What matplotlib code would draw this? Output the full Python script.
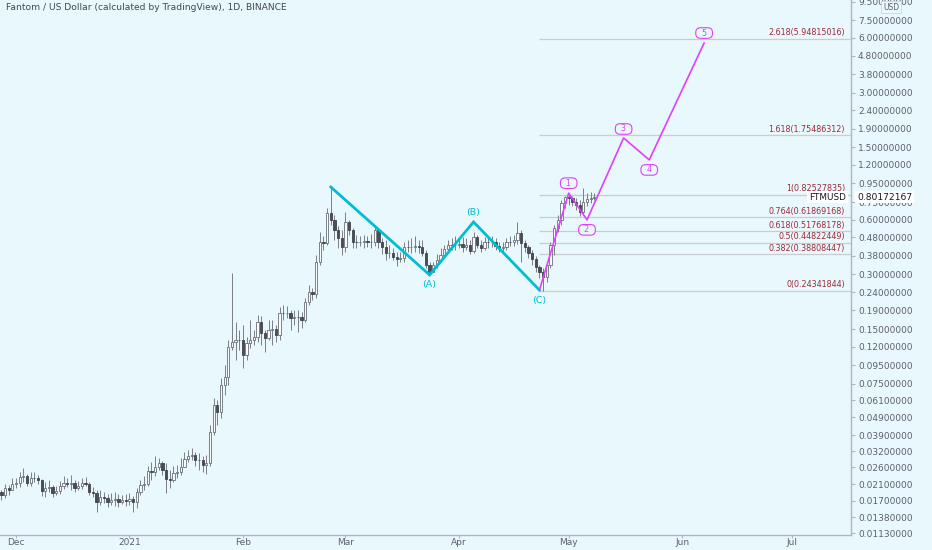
import numpy as np
import pandas as pd
import matplotlib
matplotlib.use('Agg')
import matplotlib.pyplot as plt
import matplotlib.dates as mdates
from matplotlib.ticker import NullLocator, FixedLocator
from matplotlib.transforms import blended_transform_factory

# FTM/USD daily candles, first candle 2020-11-27
start_date = '2020-11-27'
first_open = 0.0190
closes = [
    0.0183, 0.0200, 0.0195, 0.0211, 0.0213,
    0.0230, 0.0233, 0.0213, 0.0227, 0.0226, 0.0222, 0.0193, 0.0200, 0.0203, 0.0188,
    0.0193, 0.0205, 0.0213, 0.0212, 0.0214, 0.0200, 0.0205, 0.0213, 0.0212, 0.0190,
    0.0188, 0.0168, 0.0179, 0.0176, 0.0168, 0.0172, 0.0174, 0.0168, 0.0172, 0.0170,
    0.0174, 0.0168, 0.0190, 0.0208, 0.0211, 0.0248, 0.0245, 0.0261, 0.0275, 0.0252,
    0.0224, 0.0223, 0.0242, 0.0245, 0.0261, 0.0289, 0.0300, 0.0304, 0.0286, 0.0285,
    0.0268, 0.0275, 0.0408, 0.0573, 0.0525, 0.0739, 0.0818, 0.120, 0.127, 0.131,
    0.130, 0.108, 0.126, 0.131, 0.136, 0.164, 0.143, 0.134, 0.148, 0.151,
    0.139, 0.184, 0.183, 0.185, 0.172, 0.175, 0.174, 0.168, 0.211, 0.240,
    0.234, 0.351, 0.452, 0.446, 0.654, 0.598, 0.527, 0.477, 0.424, 0.583,
    0.527, 0.452, 0.450, 0.454, 0.458, 0.452, 0.455, 0.527, 0.452, 0.424,
    0.393, 0.395, 0.374, 0.364, 0.369, 0.424, 0.422, 0.426, 0.430, 0.424,
    0.393, 0.338, 0.309, 0.338, 0.360, 0.384, 0.414, 0.435, 0.433, 0.437,
    0.441, 0.424, 0.435, 0.404, 0.483, 0.435, 0.419, 0.452, 0.450, 0.454,
    0.430, 0.419, 0.422, 0.452, 0.450, 0.464, 0.508, 0.446, 0.424, 0.393,
    0.364, 0.330, 0.309, 0.291, 0.338, 0.435, 0.541, 0.598, 0.741, 0.800,
    0.789, 0.751, 0.723, 0.662, 0.751, 0.780, 0.785, 0.80172167,
]
highs = [
    0.0195, 0.0211, 0.0208, 0.0227, 0.0227,
    0.0245, 0.0258, 0.0239, 0.0245, 0.0245, 0.0236, 0.0224, 0.0216, 0.0222, 0.0208,
    0.0205, 0.0219, 0.0233, 0.0227, 0.0236, 0.0222, 0.0219, 0.0227, 0.0230, 0.0216,
    0.0203, 0.0195, 0.0195, 0.0190, 0.0186, 0.0188, 0.0190, 0.0186, 0.0183, 0.0186,
    0.0188, 0.0181, 0.0200, 0.0222, 0.0233, 0.0265, 0.0278, 0.0300, 0.0293, 0.0282,
    0.0275, 0.0252, 0.0265, 0.0268, 0.0293, 0.0316, 0.0324, 0.0332, 0.0316, 0.0312,
    0.0300, 0.0304, 0.0445, 0.0626, 0.0611, 0.0807, 0.0951, 0.131, 0.305, 0.164,
    0.148, 0.158, 0.136, 0.168, 0.148, 0.179, 0.177, 0.148, 0.168, 0.168,
    0.158, 0.199, 0.204, 0.201, 0.191, 0.191, 0.191, 0.186, 0.222, 0.262,
    0.253, 0.384, 0.514, 0.489, 0.696, 0.908, 0.637, 0.554, 0.527, 0.662,
    0.598, 0.541, 0.495, 0.489, 0.495, 0.489, 0.501, 0.561, 0.541, 0.477,
    0.464, 0.435, 0.419, 0.398, 0.398, 0.452, 0.464, 0.477, 0.489, 0.464,
    0.464, 0.409, 0.351, 0.351, 0.388, 0.419, 0.435, 0.464, 0.477, 0.489,
    0.477, 0.483, 0.477, 0.464, 0.514, 0.495, 0.464, 0.483, 0.489, 0.489,
    0.477, 0.452, 0.452, 0.477, 0.489, 0.495, 0.583, 0.527, 0.464, 0.435,
    0.409, 0.379, 0.338, 0.325, 0.351, 0.452, 0.561, 0.637, 0.770, 0.810,
    0.825, 0.810, 0.789, 0.770, 0.896, 0.841, 0.852, 0.841,
]
lows = [
    0.0172, 0.0176, 0.0183, 0.0195, 0.0200,
    0.0203, 0.0216, 0.0205, 0.0205, 0.0216, 0.0211, 0.0181, 0.0179, 0.0190, 0.0179,
    0.0183, 0.0186, 0.0198, 0.0203, 0.0195, 0.0190, 0.0195, 0.0198, 0.0205, 0.0183,
    0.0179, 0.0148, 0.0161, 0.0166, 0.0157, 0.0161, 0.0159, 0.0157, 0.0163, 0.0159,
    0.0161, 0.0148, 0.0155, 0.0183, 0.0195, 0.0205, 0.0222, 0.0233, 0.0252, 0.0236,
    0.0188, 0.0200, 0.0216, 0.0227, 0.0236, 0.0261, 0.0278, 0.0286, 0.0265, 0.0252,
    0.0245, 0.0239, 0.0265, 0.0392, 0.0445, 0.0486, 0.0650, 0.0739, 0.115, 0.101,
    0.115, 0.092, 0.101, 0.118, 0.123, 0.127, 0.123, 0.112, 0.131, 0.123,
    0.127, 0.131, 0.168, 0.172, 0.148, 0.158, 0.145, 0.153, 0.164, 0.204,
    0.217, 0.222, 0.338, 0.409, 0.435, 0.561, 0.464, 0.419, 0.384, 0.398,
    0.495, 0.419, 0.419, 0.430, 0.419, 0.424, 0.419, 0.430, 0.419, 0.388,
    0.360, 0.369, 0.360, 0.334, 0.351, 0.351, 0.398, 0.393, 0.398, 0.393,
    0.379, 0.325, 0.298, 0.309, 0.325, 0.351, 0.374, 0.398, 0.409, 0.409,
    0.419, 0.398, 0.409, 0.388, 0.393, 0.419, 0.398, 0.409, 0.419, 0.424,
    0.409, 0.398, 0.398, 0.409, 0.430, 0.430, 0.441, 0.351, 0.398, 0.369,
    0.338, 0.309, 0.287, 0.2434, 0.272, 0.325, 0.384, 0.514, 0.561, 0.696,
    0.723, 0.714, 0.679, 0.629, 0.645, 0.714, 0.741, 0.770,
]

# corrective ABC wave (cyan)
abc_dates = ['2021-02-25', '2021-03-24', '2021-04-05', '2021-04-23']
abc_prices = [0.908, 0.298, 0.583, 0.246]
abc_labels = ['', '(A)', '(B)', '(C)']

# projected impulse wave (magenta)
wave_dates = ['2021-04-23', '2021-05-01', '2021-05-06', '2021-05-16', '2021-05-23', '2021-06-07']
wave_prices = [0.246, 0.84, 0.599, 1.69, 1.28, 5.63]
wave_labels = ['', '1', '2', '3', '4', '5']

# fibonacci extension levels
fib_start = '2021-04-23'
fib_ratios = ['0', '0.382', '0.5', '0.618', '0.764', '1', '1.618', '2.618']
fib_prices = [0.24341844, 0.38808447, 0.44822449, 0.51768178, 0.61869168,
              0.82527835, 1.75486312, 5.94815016]

ytick_values = [0.0113, 0.0138, 0.017, 0.021, 0.026, 0.032, 0.039, 0.049, 0.061,
                0.075, 0.095, 0.12, 0.15, 0.19, 0.24, 0.30, 0.38, 0.48, 0.60, 0.75,
                0.95, 1.2, 1.5, 1.9, 2.4, 3.0, 3.8, 4.8, 6.0, 7.5, 9.5]
month_ticks = ['2020-12-01', '2021-01-01', '2021-02-01', '2021-03-01',
               '2021-04-01', '2021-05-01', '2021-06-01', '2021-07-01']
month_labels = ['Dec', '2021', 'Feb', 'Mar', 'Apr', 'May', 'Jun', 'Jul']
last_price = 0.80172167

bg = '#e9f8fc'
cyan = '#00bcd4'
magenta = '#e040fb'
fib_text = '#9c2a3a'
axis_text = '#5d606b'

W, H = 932, 550
fig = plt.figure(figsize=(W / 100, H / 100), dpi=100, facecolor=bg)
ax = fig.add_axes([0, 15 / H, 851 / W, 535 / H], facecolor=bg)
ax.set_yscale('log')

# candles
x = mdates.date2num(pd.date_range(start_date, periods=len(closes), freq='D'))
c = np.array(closes)
o = np.array([first_open] + closes[:-1])
up = c >= o
ax.vlines(x, lows, highs, color='#7b7e86', lw=0.7, zorder=2)
ax.bar(x, np.abs(c - o), width=0.62, bottom=np.minimum(o, c),
       color=np.where(up, '#fbfdfe', '#4a4d55'),
       edgecolor=np.where(up, '#6a6d75', '#404349'), linewidth=0.6, zorder=3)

# fib levels
trans = blended_transform_factory(ax.transAxes, ax.transData)
x_fib = mdates.date2num(pd.Timestamp(fib_start))
x_end = mdates.date2num(pd.Timestamp('2021-08-01'))
ax.hlines(fib_prices, x_fib, x_end, color='#c9cdd1', lw=0.9, zorder=1)
for r, p in zip(fib_ratios, fib_prices):
    ax.annotate(f'{r}({p:.8f})', (0.993, p), xycoords=trans, xytext=(0, 1.5),
                textcoords='offset pixels', ha='right', va='bottom',
                fontsize=5.8, color=fib_text, zorder=4)

# waves
xa = mdates.date2num(pd.to_datetime(abc_dates))
ax.plot(xa, abc_prices, color=cyan, lw=2.0, zorder=5, solid_joinstyle='miter')
abc_off = [0, -10, 9, -10]
for xi, p, lab, dy in zip(xa, abc_prices, abc_labels, abc_off):
    if lab:
        ax.annotate(lab, (xi, p), xytext=(0, dy), textcoords='offset pixels',
                    ha='center', va='center', fontsize=6.8, color=cyan, zorder=6)

xw = mdates.date2num(pd.to_datetime(wave_dates))
ax.plot(xw, wave_prices, color=magenta, lw=1.2, zorder=5)
wave_off = [0, 10, -10, 9, -10, 10]
for xi, p, lab, dy in zip(xw, wave_prices, wave_labels, wave_off):
    if lab:
        ax.annotate(f'  {lab}  ', (xi, p), xytext=(0, dy), textcoords='offset pixels',
                    ha='center', va='center', fontsize=5.8, color=magenta, zorder=6,
                    bbox=dict(boxstyle='round,pad=0.1,rounding_size=0.6',
                              fc=bg, ec=magenta, lw=0.8))

# axes
ax.set_xlim(pd.Timestamp('2020-11-26 15:00'), pd.Timestamp('2021-07-17 03:00'))
ax.set_ylim(0.01104, 9.71)
ax.yaxis.tick_right()
ax.yaxis.set_major_locator(FixedLocator(ytick_values))
ax.set_yticklabels([f'{v:.8f}' for v in ytick_values])
ax.yaxis.set_minor_locator(NullLocator())
ax.set_xticks(mdates.date2num(pd.to_datetime(month_ticks)))
ax.set_xticklabels(month_labels)
ax.xaxis.set_minor_locator(NullLocator())
ax.tick_params(axis='y', length=3, width=0.8, color='#b2b5be',
               labelcolor=axis_text, labelsize=6.5, pad=2)
ax.tick_params(axis='x', length=2, width=0.8, color='#b2b5be',
               labelcolor=axis_text, labelsize=6.5, pad=0.5)
for side in ['top', 'left']:
    ax.spines[side].set_visible(False)
for side in ['right', 'bottom']:
    ax.spines[side].set_color('#b2b5be')
    ax.spines[side].set_linewidth(1)

fig.text(6 / W, 1 - 7 / H, 'Fantom / US Dollar (calculated by TradingView), 1D, BINANCE',
         fontsize=6.6, color='#434651', va='center', ha='left')
fig.text(891 / W, 1 - 7 / H, 'USD', fontsize=5.5, color=axis_text, ha='center', va='center',
         bbox=dict(boxstyle='square,pad=0.25', fc=bg, ec='#d1d4dc', lw=0.6))
fig.text(846 / W, 1 - 197 / H, 'FTMUSD', fontsize=6.4, color='#131722', ha='right',
         va='center', bbox=dict(boxstyle='square,pad=0.2', fc='white', ec='none'))
fig.text(857 / W, 1 - 197 / H, f'{last_price:.8f}', fontsize=6.6, color='#131722',
         ha='left', va='center', bbox=dict(boxstyle='square,pad=0.2', fc='white', ec='none'))

fig.savefig('out.png', dpi=100, facecolor=bg)
